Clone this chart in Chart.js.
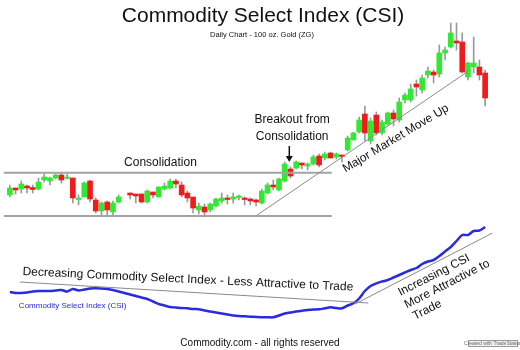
<!DOCTYPE html>
<html>
<head>
<meta charset="utf-8">
<script src="https://cdn.jsdelivr.net/npm/chart.js@4/dist/chart.umd.min.js"></script>
<style>
  html, body { margin: 0; padding: 0; background: #fff; }
  #csi { display: block; }
</style>
</head>
<body>
<canvas id="csi" width="520" height="350"></canvas>
<script>
// daily bars, day 20 is a missing session
const days = Array.from({ length: 84 }, (_, i) => String(i))

const opens = [155, 162, 161, 164, 162.5, 161, 170, 169, 172, 175, 171.5, 172, 150.5, 153, 169, 150, 139, 148, 138, 148,
  null, 157, 156, 156, 148, 158, 153, 161, 162, 169, 165, 157, 153, 140, 143, 140, 144, 149, 152, 151,
  152.5, 152, 151, 150, 147, 157, 165, 160, 169, 181, 182, 187, 184, 186, 194, 192, 197, 193, 195, 200,
  210, 218, 236, 209, 235, 217, 226, 237, 230, 250, 250, 266, 260, 275, 278, 276, 297, 303, 309, 308,
  273, 283, 283, 277]
const highs = [165, 162, 169, 165, 165, 172, 176, 173, 177, 177, 176, 172, 155, 168, 170, 152, 148, 149, 149, 155,
  null, 157, 156, 156, 160, 158, 163, 167, 171, 171, 168, 159, 153, 147, 146, 147, 152, 157, 155, 157,
  155, 153, 152, 151, 161, 167, 170, 172, 188, 183, 189, 187, 187, 195, 196, 198, 198, 197, 195, 214,
  218, 233, 244, 232, 238, 230, 238, 240, 252, 257, 266, 270, 275, 283, 280, 305, 303, 327, 327, 317,
  288, 313, 290, 280]
const lows = [153, 156, 157, 157, 157, 160, 168, 165, 171, 167, 171, 147, 145, 153, 148, 137, 135, 135, 135, 147,
  null, 151, 147, 147, 147, 152, 153, 160, 161, 162, 153, 148, 137, 136, 133, 138, 143, 147, 146, 147,
  150, 145, 145, 144, 146, 156, 160, 159, 168, 172, 181, 181, 180, 185, 183, 190, 192, 191, 188, 199,
  210, 217, 209, 206, 215, 215, 225, 224, 228, 247, 248, 254, 257, 272, 267, 273, 290, 302, 300, 277,
  270, 277, 270, 244]
const closes = [162, 160, 166, 162, 160.5, 168, 173, 172, 175, 170, 173, 152, 152, 167, 151, 139, 147, 140, 147, 153,
  null, 155, 154, 148, 159, 155, 163, 164, 169, 166, 155, 152, 142, 144, 138, 146, 151, 152, 150.5, 153,
  154, 150.5, 149, 148, 159, 165, 163, 171, 186, 174, 188, 185, 186, 193, 185, 196, 192, 196, 193.5, 212,
  217, 230, 217, 229, 217, 228, 237, 231, 248, 255, 261, 263, 272, 279, 275, 297, 300, 317, 307, 278,
  287, 287, 275, 252]

// Commodity Select Index, one reading per day
const csi = [58, 57, 57, 57.5, 58.5, 59, 59, 59, 59.5, 60, 58.5, 61, 59.5, 60.5, 61.5, 61.7, 61.5, 61, 60, 58.5,
  57, 55.5, 54, 52.5, 51, 48.5, 46, 44.5, 43, 42.5, 42, 41.7, 41, 40.7, 39.5, 38.5, 37.5, 36.5, 35.5, 34.5,
  34, 33.7, 33.3, 33, 32.7, 32.7, 32.7, 34.5, 36.5, 37.5, 38.5, 39.3, 40, 40.5, 40.7, 41.7, 42.7, 42, 41.7, 44.5,
  46.7, 51.5, 59, 64, 66.7, 68.5, 70, 72.5, 75, 77.5, 80, 82, 86, 88.5, 90, 94, 98.5, 103, 109, 115,
  115, 119, 119.5, 123]

const UP = '#33e833'
const DOWN = '#ee1c1c'
const FONT = '"Liberation Sans", Arial, sans-serif'

const wicks = days.map((_, i) => lows[i] == null ? null : [lows[i], highs[i]])
const bodies = days.map((_, i) => opens[i] == null ? null : [opens[i], closes[i]])

const notes = {
  id: 'notes',
  afterDatasetsDraw(chart) {
    const { ctx, scales: { x, y } } = chart
    const px = (i) => x.getPixelForValue(i)
    const py = (v) => y.getPixelForValue(v)

    const line = (a, b, c, d, color, width) => {
      ctx.beginPath()
      ctx.strokeStyle = color
      ctx.lineWidth = width
      ctx.moveTo(px(a), py(b))
      ctx.lineTo(px(c), py(d))
      ctx.stroke()
    }
    const text = (str, i, v, size, opts = {}) => {
      ctx.save()
      ctx.translate(px(i), py(v))
      ctx.rotate((opts.angle || 0) * Math.PI / 180)
      ctx.font = size + 'px ' + FONT
      ctx.fillStyle = opts.color || '#111'
      ctx.textAlign = opts.align || 'center'
      ctx.textBaseline = opts.baseline || 'middle'
      ctx.fillText(str, 0, 0)
      ctx.restore()
    }

    ctx.save()
    // consolidation channel
    line(-1.05, 177.3, 56.2, 177.3, '#a3a3a3', 2)
    line(-1.05, 134, 56.2, 134, '#a3a3a3', 2)
    // trend lines
    line(43.2, 135, 80.1, 279, '#8a8a8a', 1)
    line(1.75, 68, 62.6, 47, '#8a8a8a', 1)
    line(60.3, 46, 84.3, 117, '#8a8a8a', 1)

    // breakout arrow
    ctx.beginPath()
    ctx.strokeStyle = '#111'
    ctx.lineWidth = 1.5
    ctx.moveTo(px(48.8), py(204))
    ctx.lineTo(px(48.8), py(193))
    ctx.stroke()
    ctx.beginPath()
    ctx.fillStyle = '#111'
    ctx.moveTo(px(48.8) - 3.5, py(194))
    ctx.lineTo(px(48.8) + 3.5, py(194))
    ctx.lineTo(px(48.8), py(188))
    ctx.closePath()
    ctx.fill()

    text('Consolidation', 26.3, 187, 12)
    text('Breakout from', 49.3, 230, 12)
    text('Consolidation', 49.3, 213, 12)
    text('Major Market Move Up', 67.4, 211.5, 12, { angle: -31 })
    text('Decreasing Commodity Select Index - Less Attractive to Trade', 31.1, 70.5, 12, { angle: 2.7 })
    text('Commodity Select Index (CSI)', 1.57, 44, 8, { align: 'left', color: '#2a2ad8' })

    ctx.save()
    ctx.translate(px(68.2), py(54))
    ctx.rotate(-27 * Math.PI / 180)
    ctx.font = '12px ' + FONT
    ctx.fillStyle = '#111'
    ctx.textAlign = 'left'
    ctx.textBaseline = 'alphabetic'
    ctx.fillText('Increasing CSI', 0, 0)
    ctx.fillText('More Attractive to', 0, 14)
    ctx.fillText('Trade', 2, 28)
    ctx.restore()

    // headings and footer
    const w = chart.width
    ctx.fillStyle = '#111'
    ctx.textAlign = 'center'
    ctx.textBaseline = 'middle'
    ctx.font = '21px ' + FONT
    ctx.fillText('Commodity Select Index (CSI)', w / 2 + 3, 16)
    ctx.font = '7.5px ' + FONT
    ctx.fillText('Daily Chart - 100 oz. Gold (ZG)', w / 2 + 2, 35)
    ctx.font = '10px ' + FONT
    ctx.fillText('Commodity.com - all rights reserved', w / 2, 343)

    ctx.fillStyle = '#f2f2f2'
    ctx.fillRect(468, 340, 50, 7)
    ctx.strokeStyle = '#9a9a9a'
    ctx.lineWidth = 1
    ctx.strokeRect(468.5, 340.5, 49, 6)
    ctx.fillStyle = '#666'
    ctx.font = '5px ' + FONT
    ctx.fillText('Created with TradeStation', 493, 344)
    ctx.restore()
  },
}

const configCsi = {
  type: 'bar',
  data: {
    labels: days,
    datasets: [
      {
        type: 'line',
        label: 'CSI',
        data: csi,
        borderColor: '#2a2ae0',
        borderWidth: 2.5,
        pointRadius: 0,
        tension: 0.3,
        order: 0,
      },
      {
        label: 'Body',
        data: bodies,
        backgroundColor: (c) => {
          const i = c.dataIndex
          return closes[i] >= opens[i] ? UP : DOWN
        },
        barThickness: 5,
        grouped: false,
        order: 1,
      },
      {
        label: 'Range',
        data: wicks,
        backgroundColor: '#9a9a9a',
        barThickness: 1,
        grouped: false,
        order: 2,
      },
    ],
  },
  options: {
    responsive: false,
    animation: false,
    layout: { padding: { left: 7, right: 32, top: 0, bottom: 0 } },
    scales: {
      x: { display: false, offset: true },
      y: { display: false, min: 0, max: 350 },
    },
    plugins: {
      legend: { display: false },
      tooltip: { enabled: false },
    },
  },
  plugins: [notes],
}

const csiChart = document.getElementById('csi')
window.myChart = new Chart(csiChart, configCsi)
</script>
</body>
</html>
